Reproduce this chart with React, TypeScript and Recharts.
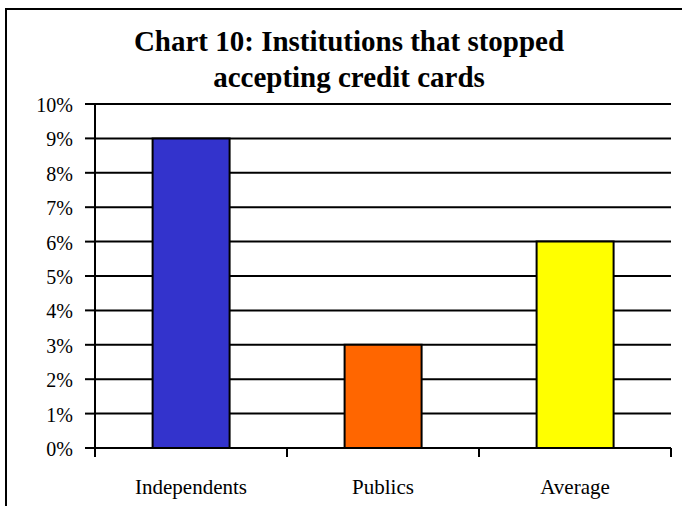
import { BarChart, Bar, XAxis, YAxis, CartesianGrid, Cell } from "recharts";

const categories = ["Independents", "Publics", "Average"];
const stoppedShare = [0.09, 0.03, 0.06];
const barColors = ["#3333CC", "#FF6600", "#FFFF00"];
const yTicks = [0, 0.01, 0.02, 0.03, 0.04, 0.05, 0.06, 0.07, 0.08, 0.09, 0.1];

const data = categories.map((name, i) => ({ name, value: stoppedShare[i] }));

const font = '"Liberation Serif", "DejaVu Serif", serif';
const pct = (v: number) => `${Math.round(v * 100)}%`;
const LABEL_DROP = 46;

function CategoryTick(props: any) {
  const { x, y, payload, index, visibleTicksCount } = props;
  const half = payload?.offset ?? 0;
  const axisY = y - LABEL_DROP;
  const last = index === (visibleTicksCount ?? categories.length) - 1;
  return (
    <g>
      <line x1={x - half} x2={x - half} y1={axisY} y2={axisY + 9} stroke="#000" strokeWidth={2} />
      {last && (
        <line x1={x + half} x2={x + half} y1={axisY} y2={axisY + 9} stroke="#000" strokeWidth={2} />
      )}
      <text x={x} y={y} textAnchor="middle" fill="#000" fontSize={21} fontFamily={font}>
        {payload.value}
      </text>
    </g>
  );
}

function PercentTick(props: any) {
  const { x, y, payload } = props;
  return (
    <text x={x} y={y + 8} textAnchor="end" fill="#000" fontSize={20} fontFamily={font}>
      {pct(payload.value)}
    </text>
  );
}

export default function App() {
  return (
    <div
      style={{
        position: "fixed",
        left: 0,
        top: 0,
        width: 682,
        height: 506,
        overflow: "hidden",
        background: "#fff",
        fontFamily: font,
      }}
    >
      <div
        style={{
          position: "absolute",
          left: 5,
          top: 8,
          width: 720,
          height: 540,
          borderLeft: "2px solid #000",
          borderTop: "2px solid #000",
        }}
      />
      <div
        style={{
          position: "absolute",
          left: 0,
          top: 23,
          width: 698,
          textAlign: "center",
          fontWeight: "bold",
          fontSize: 29,
          lineHeight: "36px",
          color: "#000",
        }}
      >
        Chart 10: Institutions that stopped
        <br />
        accepting credit cards
      </div>
      <div style={{ position: "absolute", left: 0, top: 0 }}>
        <BarChart
          width={682}
          height={506}
          data={data}
          margin={{ top: 104, right: 11, bottom: 18, left: 35 }}
          barCategoryGap="30%"
        >
          <CartesianGrid vertical={false} stroke="#000" strokeWidth={2} />
          <XAxis
            dataKey="name"
            height={40}
            axisLine={{ stroke: "#000", strokeWidth: 2 }}
            tickLine={false}
            tickSize={0}
            tickMargin={LABEL_DROP}
            interval={0}
            tick={<CategoryTick />}
          />
          <YAxis
            domain={[0, 0.1]}
            ticks={yTicks}
            width={60}
            interval={0}
            axisLine={{ stroke: "#000", strokeWidth: 2 }}
            tickLine={{ stroke: "#000", strokeWidth: 2 }}
            tickSize={10}
            tickMargin={12}
            tick={<PercentTick />}
          />
          <YAxis
            yAxisId="right"
            orientation="right"
            domain={[0, 0.1]}
            width={0}
            tick={false}
            tickLine={false}
            axisLine={{ stroke: "#000", strokeWidth: 2 }}
          />
          <Bar dataKey="value" stroke="#000" strokeWidth={2} isAnimationActive={false}>
            {data.map((d, i) => (
              <Cell key={d.name} fill={barColors[i]} />
            ))}
          </Bar>
        </BarChart>
      </div>
    </div>
  );
}
